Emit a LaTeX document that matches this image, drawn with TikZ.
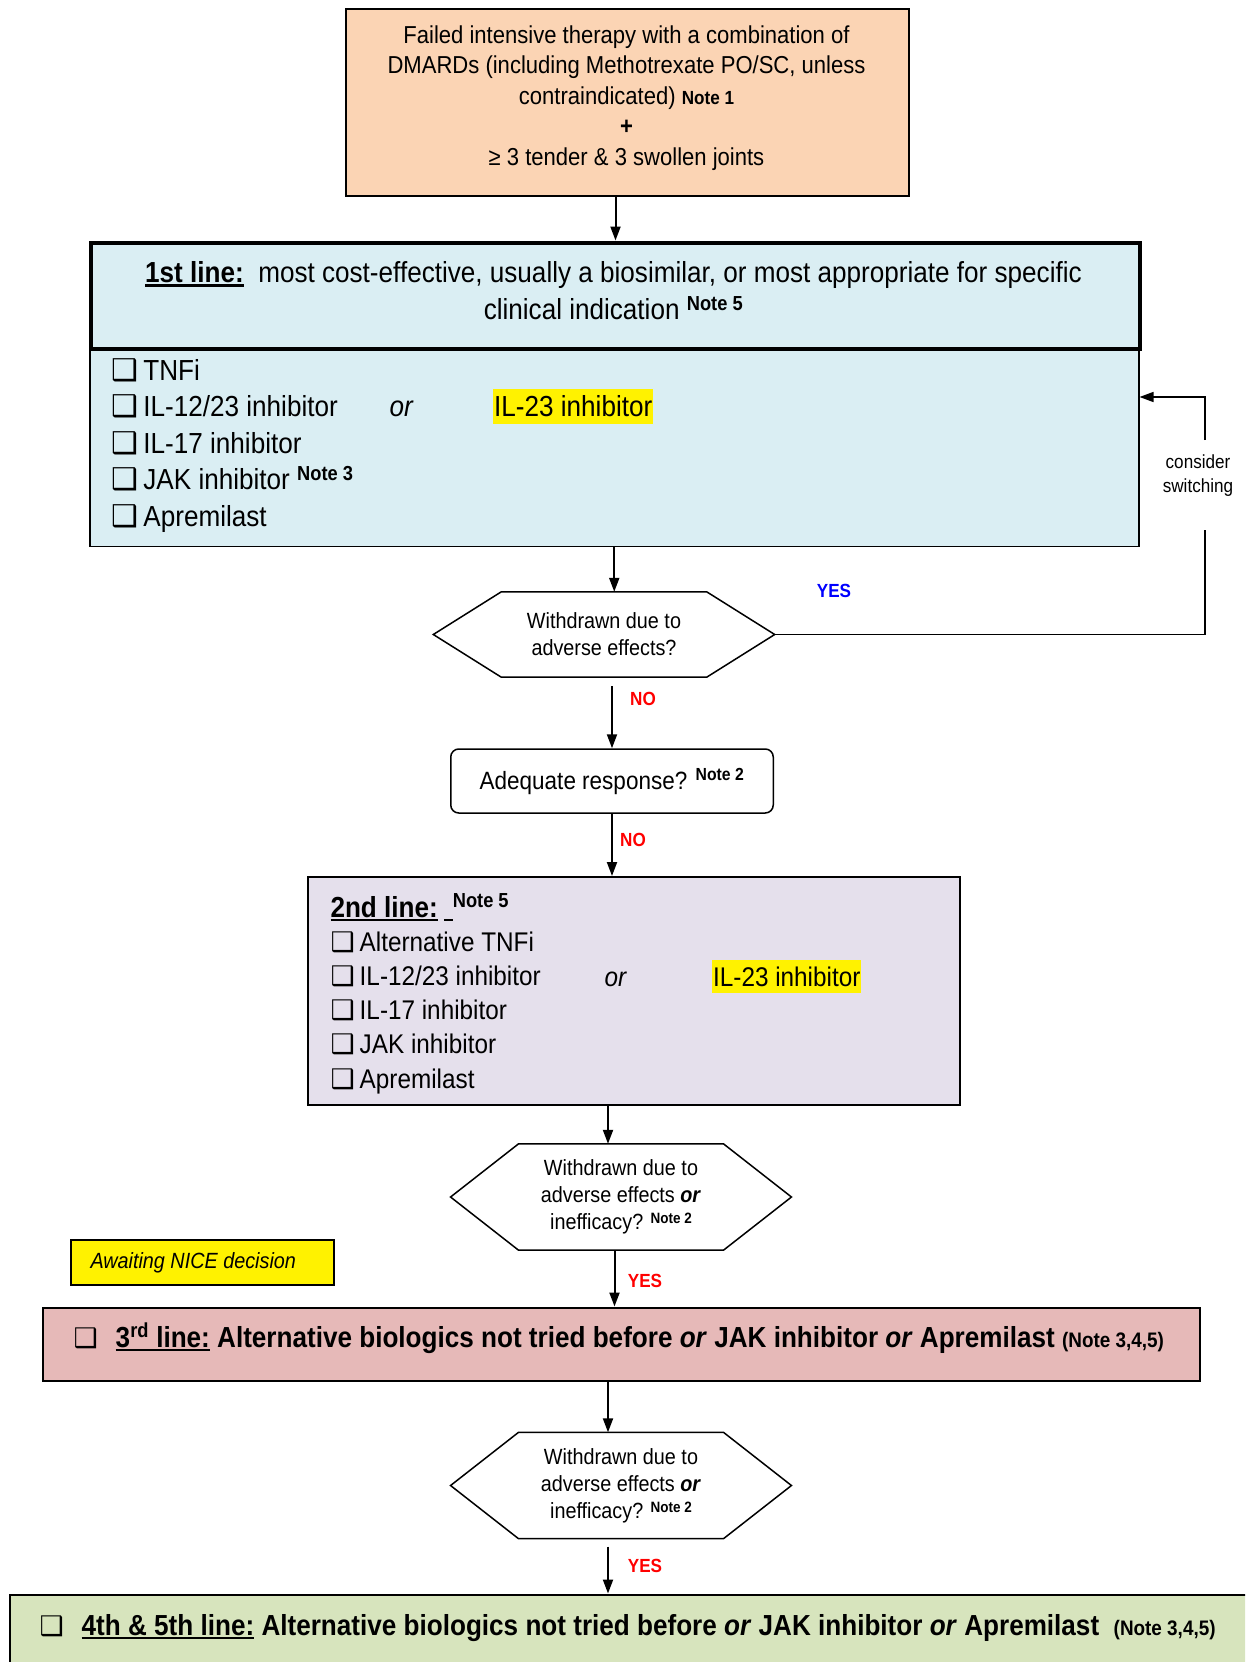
\documentclass[tikz,border=0pt]{standalone}
\usepackage{fontspec}
\setmainfont{Liberation Sans}[FakeStretch=0.9]
\newfontfamily\dejavu{DejaVu Sans}
\usetikzlibrary{arrows.meta,calc}
\definecolor{peach}{HTML}{FBD4B4}
\definecolor{lblue}{HTML}{DAEEF3}
\definecolor{lav}{HTML}{E5E0EC}
\definecolor{pinkbox}{HTML}{E6B9B8}
\definecolor{lgreen}{HTML}{D7E4BD}
\definecolor{yesblue}{HTML}{0000FF}
\definecolor{nored}{HTML}{FF0000}
\newcommand\fs[2]{\fontsize{#1}{#2}\selectfont}
\newcommand\myul[1]{\setbox0\hbox{#1}\rlap{\rule[-4pt]{\wd0}{2.4pt}}\box0\relax}
\newcommand\chk[1]{{\dejavu\fontsize{#1}{#1}\selectfont ❑}}
\newcommand\note[1]{\textsuperscript{\textbf{#1}}}
\newcommand\hexa[2]{\draw[hexline] ([xshift=#2]#1.north west) -- ([xshift=-#2]#1.north east) -- (#1.east) -- ([xshift=-#2]#1.south east) -- ([xshift=#2]#1.south west) -- (#1.west) -- cycle;}
\begin{document}
\begin{tikzpicture}[x=1pt,y=-1pt,
  box/.style={draw, inner sep=0},
  arr/.style={-{Triangle[length=14pt,width=10pt]}, line width=2pt},
  hexline/.style={draw, line width=1.5pt},
  lbl/.style={font=\fs{19}{22}\bfseries},
  item1/.style={anchor=base west, font=\fs{29}{35}},
  item2/.style={anchor=base west, font=\fs{27}{33}},
  hextext/.style={inner sep=0, align=center, font=\fs{22}{27}}]
\useasboundingbox (0,0) rectangle (1245,1662);
\clip (0,0) rectangle (1245,1662);
\fill[white] (0,0) rectangle (1245,1662);
\coordinate (col) at (608,0);
\coordinate (colb) at (614.5,0);

% top box
\node[box, fill=peach, line width=2pt, minimum width=563, minimum height=186.5, anchor=north west] (start) at (345,8.5) {};
\node[align=center, font=\fs{24.5}{30.5}] (starttxt) at (626.5,98) {Failed intensive therapy with a combination of\\DMARDs (including Methotrexate PO/SC, unless\\contraindicated) {\fs{19}{22}\bfseries Note 1}\\\textbf{+}\\≥ 3 tender \& 3 swollen joints};

% first line
\node[box, fill=lblue, line width=1.5pt, minimum width=1049, minimum height=199, anchor=north west] (l1) at (89,346.5) {};
\node[box, fill=lblue, line width=4pt, minimum width=1049, minimum height=106, anchor=north west] (l1h) at (89,240.5) {};
\node[align=center, font=\fs{29}{37}] (l1htxt) at (613.5,291) {\myul{\textbf{1st line:}}\ \ most cost-effective, usually a biosimilar, or most appropriate for specific\\clinical indication \note{Note 5}};
\foreach \t [count=\i] in {TNFi, IL-12/23 inhibitor, IL-17 inhibitor, JAK inhibitor \note{Note 3}, Apremilast}
  \node[item1] (l1i\i) at (108,{380+36.5*(\i-1)}) {\chk{30}\hspace{5pt}\t};
\node[item1, font=\fs{29}{35}\itshape] (l1or) at (386,416) {or};
\node[item1, fill=yellow, inner xsep=1pt, inner ysep=0pt, text height=27pt, text depth=8pt] (l1hl) at (493,416) {IL-23 inhibitor};

% hex 1
\node[hextext, minimum width=341, minimum height=85] (h1) at (604,634.5) {Withdrawn due to\\adverse effects?};
\hexa{h1}{68}
\coordinate (fbtop) at (1205,397);
\coordinate (fbA) at (1205,530);
\coordinate (fbB) at (1205,440);
\draw[line width=1.5pt] (h1.east) -- (h1.east -| fbA) -- (fbA);
\draw[line width=1.5pt, -{Triangle[length=14pt,width=10pt]}] (fbB) -- (fbtop) -- (fbtop -| l1.east);
\node[align=center, font=\fs{19}{24}] (cs) at (1198,476) {consider\\switching};
\node[lbl, text=yesblue] (yes1) at (834,591) {YES};

\draw[arr] (l1.south) -- (l1.south |- h1.north);
\draw[arr] (start.south -| l1h.north) -- (l1h.north);

% adequate
\node[draw, rounded corners=8pt, line width=1.5pt, minimum width=322.5, minimum height=64, font=\fs{25}{30}] (adq) at (612,781) {Adequate response? \note{Note 2}};
\draw[arr, shorten <=9pt] (h1.south -| adq.north) -- (adq.north);
\node[lbl, text=nored] (no1) at (643,699) {NO};

% second line
\node[box, fill=lav, line width=2pt, minimum width=652, minimum height=228, anchor=north west] (l2) at (307,876) {};
\draw[arr] (adq.south) -- (adq.south |- l2.north);
\node[lbl, text=nored] (no2) at (633,840) {NO};
\node[item1] (l2h) at (327,917) {\myul{\textbf{2nd line:}}\hspace{6pt}\myul{\hspace{9pt}}\note{Note 5}};
\foreach \t [count=\i] in {Alternative TNFi, IL-12/23 inhibitor, IL-17 inhibitor, JAK inhibitor, Apremilast}
  \node[item2] (l2i\i) at (327,{951+34.25*(\i-1)}) {\chk{27}\hspace{5pt}\t};
\node[item2, font=\fs{27}{33}\itshape] (l2or) at (601,986) {or};
\node[item2, fill=yellow, inner xsep=1pt, inner ysep=0pt, text height=26pt, text depth=7pt] (l2hl) at (712,986) {IL-23 inhibitor};

% hex 2
\node[hextext, minimum width=340.5, minimum height=106] (h2) at (621,1197) {Withdrawn due to\\adverse effects \textbf{\textit{or}}\\inefficacy? {\fs{15}{18}\bfseries\raisebox{6pt}{Note 2}}};
\hexa{h2}{68}
\draw[arr] (l2.south -| col) -- (h2.north -| col);

% NICE
\node[box, fill=yellow, line width=2pt, minimum width=263, minimum height=45, anchor=north west] (nice) at (70,1239) {};
\node[anchor=west, font=\fs{22}{26}\itshape] (nicetxt) at (87,1263) {Awaiting NICE decision};

% third line
\node[box, fill=pinkbox, line width=2pt, minimum width=1157, minimum height=73.5, anchor=north west] (l3) at (42,1306.5) {};
\draw[arr, shorten <=1pt] (h2.south -| colb) -- (l3.north -| colb);
\node[lbl, text=nored] (yes2) at (645,1281) {YES};
\node[anchor=base west, font=\fs{29}{34}\bfseries] (l3txt) at (70,1347) {\chk{27}\hspace{18pt}\myul{3\textsuperscript{rd} line:} Alternative biologics not tried before \textit{or} JAK inhibitor \textit{or} Apremilast {\fs{21}{25}(Note 3,4,5)}};

% hex 3
\node[hextext, minimum width=340.5, minimum height=106] (h3) at (621,1485.5) {Withdrawn due to\\adverse effects \textbf{\textit{or}}\\inefficacy? {\fs{15}{18}\bfseries\raisebox{6pt}{Note 2}}};
\hexa{h3}{68}
\draw[arr] (l3.south -| col) -- (h3.north -| col);

% fourth line
\node[box, fill=lgreen, line width=2pt, minimum width=1280, minimum height=120, anchor=north west] (l4) at (8.5,1593.5) {};
\draw[arr, shorten <=8pt] (h3.south -| col) -- (l4.north -| col);
\node[lbl, text=nored] (yes3) at (645,1566) {YES};
\node[anchor=base west, font=\fs{29}{34}\bfseries] (l4txt) at (36,1635) {\chk{27}\hspace{18pt}\myul{4th \& 5th line:} Alternative biologics not tried before \textit{or} JAK inhibitor \textit{or} Apremilast\ \ {\fs{21}{25}(Note 3,4,5)}};
\end{tikzpicture}
\end{document}
